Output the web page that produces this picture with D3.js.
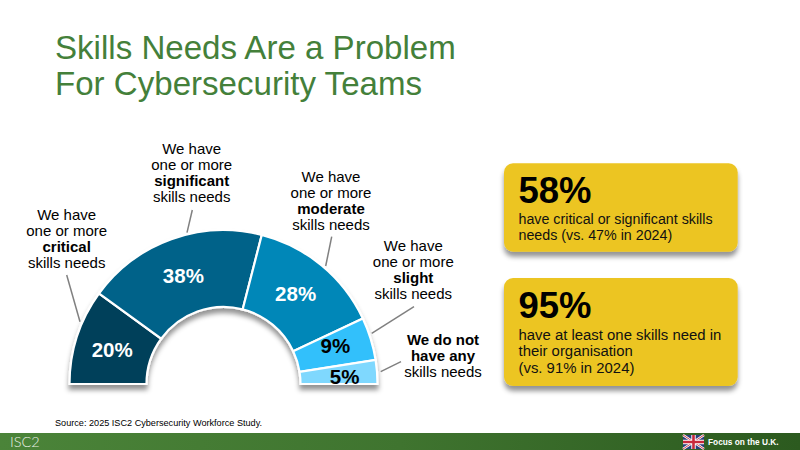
<!DOCTYPE html>
<html><head><meta charset="utf-8">
<script src="https://cdn.jsdelivr.net/npm/d3@7"></script>
<style>html,body{margin:0;padding:0;background:#fff}svg{display:block}text{font-family:"Liberation Sans",Arial,sans-serif}</style>
</head><body><svg id="c" width="800" height="450"></svg>
<script>
const titleLines = ["Skills Needs Are a Problem", "For Cybersecurity Teams"];
const categories = ["critical", "significant", "moderate", "slight", "none"];
const values = [20, 38, 28, 9, 5];
const valueLabels = ["20%", "38%", "28%", "9%", "5%"];
const sliceColors = ["#003f5a", "#006289", "#0087b8", "#33c0fb", "#7fd8fe"];
const labelInk = ["#fff", "#fff", "#fff", "#000", "#000"];
const calloutBig = ["58%", "95%"];
const calloutText = [
  ["have critical or significant skills", "needs (vs. 47% in 2024)"],
  ["have at least one skills need in", "their organisation", "(vs. 91% in 2024)"]
];
const categoryText = [
  [["We have",0],["one or more",0],["critical",1],["skills needs",0]],
  [["We have",0],["one or more",0],["significant",1],["skills needs",0]],
  [["We have",0],["one or more",0],["moderate",1],["skills needs",0]],
  [["We have",0],["one or more",0],["slight",1],["skills needs",0]],
  [["We do not",1],["have any",1],["skills needs",0]]
];
const labelAnchors = [[66.7,220],[191.7,154],[331,181.7],[413.3,251],[443,345]];
const valueNudges = [[-1.5,1.5],[-1,0.5],[-1.5,-1],[1.5,-4],[6,2]];
const leaders = [[[66.7,275],[80,321.7]],[[192.3,210],[187,232.7]],[[331.7,236.7],[325.7,266]],[[414,306.7],[371.7,333.3]],[[401,361.7],[380.7,371.7]]];
const sourceText = "Source: 2025 ISC2 Cybersecurity Workforce Study.";
const footerLeft = "ISC2";
const footerRight = "Focus on the U.K.";

const svg = d3.select("#c");
const defs = svg.append("defs");
const shadow = (id, dy, sd, op) => {
  const f = defs.append("filter").attr("id", id).attr("x","-20%").attr("y","-20%").attr("width","140%").attr("height","150%");
  f.append("feDropShadow").attr("dx",0).attr("dy",dy).attr("stdDeviation",sd).attr("flood-color","#000").attr("flood-opacity",op);
};
shadow("sh", 5, 2.5, 0.42);
const grad = defs.append("linearGradient").attr("id","foot");
grad.append("stop").attr("offset","0").attr("stop-color","#4b8439");
grad.append("stop").attr("offset","0.5").attr("stop-color","#3f742f");
grad.append("stop").attr("offset","1").attr("stop-color","#2c5a1f");

// title
svg.append("g").selectAll("text").data(titleLines).join("text")
  .attr("x",55).attr("y",(d,i)=>59+i*35.5).attr("font-size",33.1).attr("fill","#44803a").text(d=>d);

// gauge
const cx = 223.5, cy = 384, R = 154, r = 77;
const pie = d3.pie().sort(null).startAngle(-Math.PI/2).endAngle(Math.PI/2);
const arc = d3.arc().innerRadius(r).outerRadius(R);
const g = svg.append("g").attr("transform",`translate(${cx},${cy})`);
const arcs = pie(values);
g.append("g").attr("filter","url(#sh)").selectAll("path").data(arcs).join("path")
  .attr("d",arc).attr("fill",(d,i)=>sliceColors[i]).attr("stroke","#fff").attr("stroke-width",2.2);
g.selectAll("text").data(arcs).join("text")
  .attr("transform",(d,i)=>{const c=arc.centroid(d);return `translate(${c[0]+valueNudges[i][0]},${c[1]+valueNudges[i][1]})`;})
  .attr("text-anchor","middle").attr("dy","0.36em")
  .attr("font-size",20.5).attr("font-weight","bold")
  .attr("fill",(d,i)=>labelInk[i]).text((d,i)=>valueLabels[i]);

// leaders
svg.append("g").selectAll("line").data(leaders).join("line")
  .attr("x1",d=>d[0][0]).attr("y1",d=>d[0][1]).attr("x2",d=>d[1][0]).attr("y2",d=>d[1][1])
  .attr("stroke","#808080").attr("stroke-width",1.5);

// category labels
categories.forEach((c,i)=>{
  svg.append("g").selectAll("text").data(categoryText[i]).join("text")
    .attr("x",labelAnchors[i][0]).attr("y",(d,j)=>labelAnchors[i][1]+j*16)
    .attr("text-anchor","middle").attr("font-size",15).attr("fill","#000")
    .attr("font-weight",d=>d[1]?"bold":"normal").text(d=>d[0]);
});

// callouts
const boxes = [[504,163.3,233.7,88.4],[504,278,233.7,108]];
const boxFont = [14.25,14.9], boxBody = [[224,240],[340,356,373.3]], boxBase = [203.3,318];
boxes.forEach((b,i)=>{
  svg.append("rect").attr("x",b[0]).attr("y",b[1]).attr("width",b[2]).attr("height",b[3]).attr("rx",9)
    .attr("fill","#ecc523").attr("filter","url(#sh)");
  svg.append("text").attr("x",518.5).attr("y",boxBase[i]).attr("font-size",36.5).attr("font-weight","bold").attr("fill","#000").text(calloutBig[i]);
  svg.append("g").selectAll("text").data(calloutText[i]).join("text")
    .attr("x",518.5).attr("y",(d,j)=>boxBody[i][j]).attr("font-size",boxFont[i]).attr("fill","#111").text(d=>d);
});

// source + footer
svg.append("text").attr("x",55).attr("y",426).attr("font-size",9.15).attr("fill","#000").text(sourceText);
svg.append("rect").attr("x",0).attr("y",433).attr("width",800).attr("height",17).attr("fill","url(#foot)");
svg.append("text").attr("x",10).attr("y",446.5).attr("font-size",14.5).attr("font-weight",300).attr("fill","#e8efe4")
  .style("font-family","Lato, 'Noto Sans', sans-serif").text(footerLeft);
svg.append("text").attr("x",708).attr("y",444.5).attr("font-size",8.3).attr("font-weight","bold").attr("fill","#fff").text(footerRight);

// flag
const fl = svg.append("g").attr("transform","translate(683,435)");
fl.append("rect").attr("width",21).attr("height",14).attr("rx",2).attr("fill","#2a3f7e");
fl.append("path").attr("d","M0 0L21 14M21 0L0 14").attr("stroke","#fff").attr("stroke-width",2.4);
fl.append("path").attr("d","M0 0L21 14M21 0L0 14").attr("stroke","#c8283c").attr("stroke-width",0.9);
fl.append("path").attr("d","M10.5 0V14M0 7H21").attr("stroke","#fff").attr("stroke-width",4.4);
fl.append("path").attr("d","M10.5 0V14M0 7H21").attr("stroke","#c8283c").attr("stroke-width",2.6);
</script></body></html>
